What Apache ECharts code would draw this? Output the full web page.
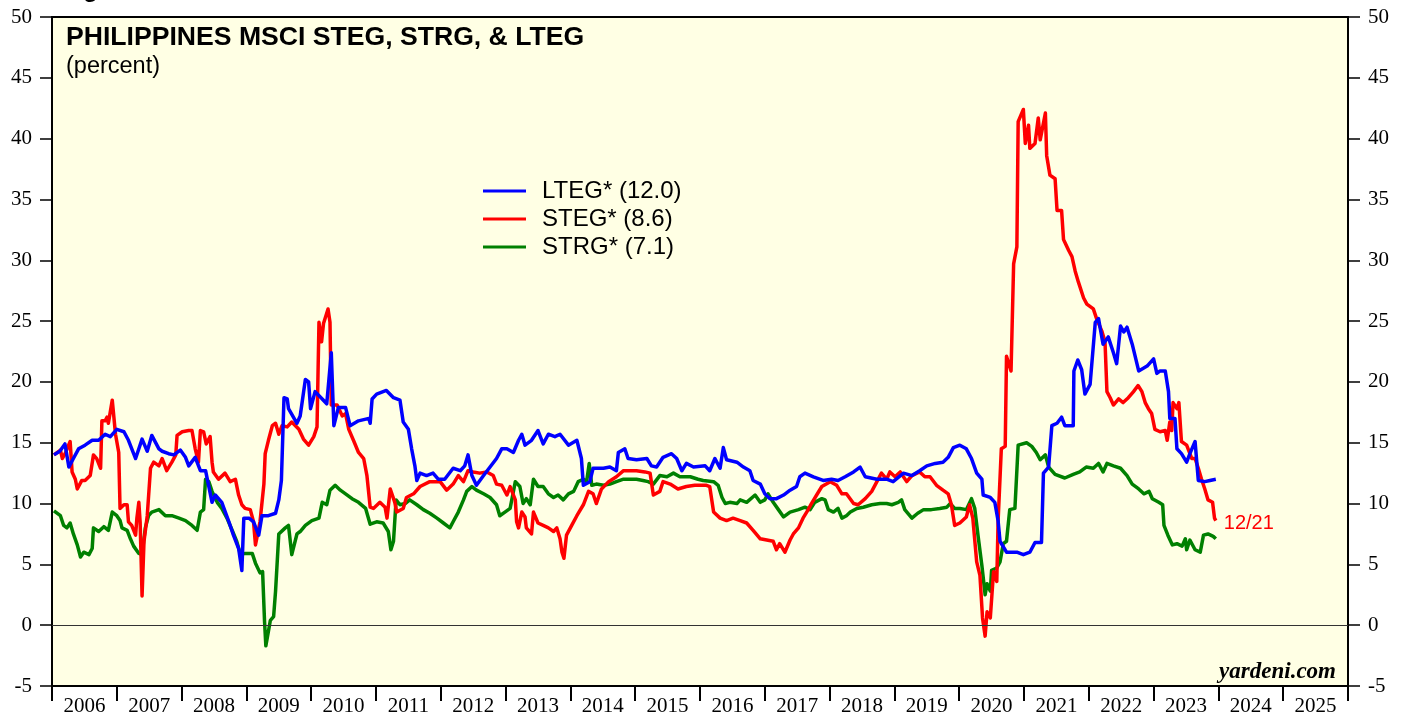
<!DOCTYPE html>
<html>
<head>
<meta charset="utf-8">
<title>Philippines MSCI STEG, STRG, & LTEG</title>
<script src="https://cdn.jsdelivr.net/npm/echarts@6/dist/echarts.min.js"></script>
<style>
  html, body { margin: 0; padding: 0; background: #fff; }
  #chart { width: 1407px; height: 717px; }
</style>
</head>
<body>
<div id="chart"></div>
<script>
// Year labels shown under the time axis (one per calendar year)
const years = ['2006','2007','2008','2009','2010','2011','2012','2013','2014','2015',
               '2016','2017','2018','2019','2020','2021','2022','2023','2024','2025'];

// Y-axis range shared by both vertical axes (percent)
const yMin = -5, yMax = 50, yStep = 5;

// Legend names with the latest reading of each series
const names = { lteg: 'LTEG* (12.0)', steg: 'STEG* (8.6)', strg: 'STRG* (7.1)' };

// Long-term expected earnings growth, [decimal year, percent]
const lteg = [
  [2006.03,14.0],[2006.05,14.1],[2006.12,14.3],[2006.20,14.9],[2006.26,13.0],[2006.33,13.7],[2006.41,14.5],[2006.51,14.8],
  [2006.62,15.2],[2006.72,15.2],[2006.82,15.7],[2006.90,15.5],[2007.00,16.1],[2007.11,15.9],[2007.18,15.2],[2007.29,13.7],
  [2007.39,15.3],[2007.47,14.3],[2007.54,15.6],[2007.65,14.5],[2007.70,14.3],[2007.80,14.1],[2007.88,14.0],[2007.98,14.4],
  [2008.06,13.8],[2008.11,13.1],[2008.21,13.8],[2008.29,12.7],[2008.37,12.7],[2008.47,10.1],[2008.52,10.7],[2008.62,10.1],
  [2008.73,8.5],[2008.80,7.4],[2008.88,6.3],[2008.93,4.5],[2008.96,8.8],[2009.04,8.8],[2009.11,8.5],[2009.19,7.4],
  [2009.24,9.0],[2009.34,9.0],[2009.45,9.2],[2009.50,10.3],[2009.54,11.9],[2009.58,18.7],[2009.63,18.6],[2009.65,17.8],
  [2009.78,16.6],[2009.83,17.2],[2009.91,20.2],[2009.96,20.0],[2009.99,17.8],[2010.06,19.2],[2010.17,18.6],[2010.24,18.2],
  [2010.31,22.4],[2010.35,16.4],[2010.42,17.9],[2010.53,17.9],[2010.60,16.4],[2010.73,16.8],[2010.89,17.0],[2010.91,16.6],
  [2010.94,18.6],[2011.01,19.0],[2011.16,19.3],[2011.27,18.7],[2011.37,18.5],[2011.42,16.7],[2011.50,16.1],[2011.55,14.5],
  [2011.60,13.1],[2011.63,11.9],[2011.68,12.5],[2011.78,12.3],[2011.88,12.5],[2011.96,12.0],[2012.06,12.0],[2012.19,12.9],
  [2012.30,12.7],[2012.37,13.1],[2012.42,14.0],[2012.48,12.3],[2012.55,11.5],[2012.66,12.3],[2012.76,13.0],[2012.86,13.7],
  [2012.94,14.5],[2013.02,14.5],[2013.12,14.2],[2013.20,15.2],[2013.25,15.7],[2013.30,14.8],[2013.40,15.2],[2013.50,16.0],
  [2013.58,14.9],[2013.66,15.7],[2013.76,15.5],[2013.84,15.7],[2013.97,14.8],[2014.10,15.2],[2014.17,13.7],[2014.20,11.5],
  [2014.30,11.8],[2014.35,12.9],[2014.51,12.9],[2014.61,13.0],[2014.71,12.7],[2014.74,14.2],[2014.84,14.5],[2014.89,13.7],
  [2015.02,13.6],[2015.18,13.7],[2015.25,13.1],[2015.33,13.0],[2015.43,13.8],[2015.56,14.1],[2015.64,13.7],[2015.72,12.7],
  [2015.79,13.3],[2015.90,13.0],[2016.08,13.1],[2016.15,12.7],[2016.23,13.7],[2016.31,12.9],[2016.36,14.6],[2016.41,13.6],
  [2016.57,13.4],[2016.67,13.0],[2016.77,12.7],[2016.82,11.9],[2016.93,11.6],[2017.00,10.8],[2017.08,10.4],[2017.18,10.4],
  [2017.29,10.7],[2017.39,11.1],[2017.49,11.4],[2017.54,12.2],[2017.62,12.5],[2017.75,12.2],[2017.90,11.9],[2018.03,12.0],
  [2018.13,11.9],[2018.24,12.2],[2018.37,12.6],[2018.47,13.0],[2018.55,12.2],[2018.73,12.0],[2018.88,12.0],[2018.98,11.8],
  [2019.14,12.5],[2019.27,12.3],[2019.39,12.7],[2019.50,13.1],[2019.63,13.3],[2019.75,13.4],[2019.83,13.8],[2019.91,14.6],
  [2020.01,14.8],[2020.11,14.5],[2020.19,13.7],[2020.27,12.5],[2020.35,12.0],[2020.37,10.7],[2020.48,10.5],[2020.55,10.1],
  [2020.60,8.6],[2020.63,6.9],[2020.73,6.0],[2020.89,6.0],[2020.99,5.8],[2021.09,6.0],[2021.17,6.8],[2021.27,6.8],
  [2021.30,12.5],[2021.38,13.0],[2021.43,16.4],[2021.51,16.6],[2021.58,17.1],[2021.63,16.4],[2021.76,16.4],[2021.77,20.9],
  [2021.83,21.8],[2021.89,21.0],[2021.94,19.0],[2022.02,19.8],[2022.10,24.9],[2022.15,25.2],[2022.22,23.1],[2022.30,23.7],
  [2022.38,22.4],[2022.43,21.5],[2022.49,24.6],[2022.54,24.1],[2022.59,24.5],[2022.67,23.1],[2022.77,20.9],[2022.90,21.3],
  [2023.00,21.9],[2023.05,20.7],[2023.10,20.9],[2023.18,20.9],[2023.23,19.2],[2023.25,17.0],[2023.33,17.0],[2023.36,14.5],
  [2023.43,14.1],[2023.51,13.4],[2023.56,14.1],[2023.64,15.1],[2023.69,11.9],[2023.79,11.8],[2023.87,11.9],[2023.96,12.0]
];

// Short-term expected earnings growth, [decimal year, percent]
const steg = [
  [2006.03,14.0],[2006.05,14.1],[2006.13,14.4],[2006.16,13.7],[2006.21,14.2],[2006.28,15.1],[2006.31,12.6],[2006.36,12.0],
  [2006.39,11.2],[2006.46,11.9],[2006.51,11.9],[2006.59,12.3],[2006.64,14.0],[2006.69,13.7],[2006.75,12.9],[2006.77,16.8],
  [2006.82,16.8],[2006.85,17.1],[2006.87,16.6],[2006.93,18.5],[2006.98,15.7],[2007.03,14.2],[2007.05,9.6],[2007.11,9.9],
  [2007.16,9.9],[2007.18,8.5],[2007.23,8.2],[2007.29,7.4],[2007.31,8.8],[2007.34,10.1],[2007.36,8.5],[2007.39,2.4],
  [2007.42,6.9],[2007.47,9.0],[2007.52,12.9],[2007.57,13.4],[2007.65,13.1],[2007.70,13.7],[2007.77,12.7],[2007.85,13.4],
  [2007.91,14.0],[2007.93,15.6],[2008.01,15.9],[2008.11,16.0],[2008.16,16.0],[2008.21,14.5],[2008.26,13.4],[2008.29,16.0],
  [2008.34,15.9],[2008.38,14.9],[2008.44,15.5],[2008.47,13.4],[2008.49,12.6],[2008.57,12.0],[2008.67,12.5],[2008.75,11.8],
  [2008.83,12.0],[2008.88,10.7],[2008.93,9.9],[2008.98,9.6],[2009.06,9.5],[2009.11,8.5],[2009.14,6.6],[2009.21,8.5],
  [2009.27,11.6],[2009.29,14.1],[2009.34,15.2],[2009.40,16.4],[2009.45,16.6],[2009.50,15.7],[2009.55,16.4],[2009.63,16.3],
  [2009.70,16.7],[2009.81,16.1],[2009.88,15.3],[2009.96,14.8],[2010.04,15.5],[2010.09,16.3],[2010.12,24.9],[2010.16,23.3],
  [2010.19,24.8],[2010.26,26.0],[2010.29,24.9],[2010.31,18.1],[2010.40,18.1],[2010.48,17.2],[2010.53,17.4],[2010.58,16.1],
  [2010.66,15.1],[2010.73,14.2],[2010.81,13.7],[2010.86,12.3],[2010.91,9.7],[2010.96,9.6],[2011.06,10.1],[2011.14,9.7],
  [2011.17,8.8],[2011.22,11.2],[2011.29,10.1],[2011.32,9.3],[2011.42,9.6],[2011.47,10.5],[2011.58,10.8],[2011.68,11.4],
  [2011.83,11.8],[2011.99,11.8],[2012.09,11.1],[2012.19,11.6],[2012.27,12.3],[2012.35,11.8],[2012.42,12.7],[2012.50,12.6],
  [2012.60,12.5],[2012.71,12.6],[2012.81,12.3],[2012.86,11.6],[2012.94,11.5],[2013.02,10.7],[2013.07,11.4],[2013.15,10.3],
  [2013.17,8.5],[2013.20,8.0],[2013.25,9.3],[2013.30,8.9],[2013.32,8.0],[2013.40,7.5],[2013.43,9.3],[2013.50,8.4],
  [2013.58,8.2],[2013.66,8.0],[2013.74,7.7],[2013.79,8.0],[2013.84,7.1],[2013.87,6.0],[2013.90,5.5],[2013.94,7.4],
  [2014.02,8.2],[2014.10,9.0],[2014.20,9.9],[2014.28,11.0],[2014.35,10.8],[2014.40,10.0],[2014.48,11.2],[2014.59,11.8],
  [2014.71,12.2],[2014.82,12.7],[2014.92,12.7],[2015.02,12.7],[2015.15,12.6],[2015.23,12.5],[2015.28,10.7],[2015.38,11.0],
  [2015.43,11.8],[2015.54,11.6],[2015.66,11.2],[2015.79,11.4],[2015.92,11.5],[2016.10,11.5],[2016.15,11.4],[2016.21,9.3],
  [2016.31,8.8],[2016.41,8.6],[2016.51,8.8],[2016.62,8.6],[2016.72,8.4],[2016.82,7.8],[2016.93,7.1],[2017.03,7.0],
  [2017.13,6.9],[2017.18,6.2],[2017.23,6.7],[2017.31,6.0],[2017.39,7.0],[2017.44,7.5],[2017.52,8.0],[2017.59,8.8],
  [2017.67,9.5],[2017.72,10.0],[2017.80,10.7],[2017.88,11.4],[2018.01,11.8],[2018.11,11.5],[2018.19,10.8],[2018.26,10.8],
  [2018.37,10.0],[2018.44,9.9],[2018.55,10.4],[2018.65,11.0],[2018.73,11.8],[2018.80,12.5],[2018.88,12.0],[2018.93,12.6],
  [2019.01,12.2],[2019.09,12.6],[2019.19,11.8],[2019.27,12.3],[2019.39,12.6],[2019.47,12.2],[2019.55,12.2],[2019.65,11.5],
  [2019.75,11.1],[2019.83,10.8],[2019.88,9.9],[2019.93,8.2],[2020.01,8.4],[2020.11,8.9],[2020.16,9.9],[2020.21,8.8],
  [2020.27,5.2],[2020.32,4.1],[2020.36,0.6],[2020.40,-0.9],[2020.43,1.1],[2020.48,0.6],[2020.53,4.4],[2020.58,3.6],
  [2020.60,8.5],[2020.65,14.5],[2020.71,14.7],[2020.73,22.1],[2020.80,20.9],[2020.84,29.7],[2020.89,31.1],[2020.91,41.4],
  [2020.99,42.4],[2021.02,39.6],[2021.07,41.1],[2021.09,39.2],[2021.17,39.6],[2021.22,41.7],[2021.25,39.9],[2021.33,42.1],
  [2021.35,38.6],[2021.40,37.0],[2021.48,36.7],[2021.51,34.1],[2021.58,34.1],[2021.61,31.7],[2021.69,30.8],[2021.74,30.3],
  [2021.79,29.1],[2021.84,28.2],[2021.92,26.9],[2021.97,26.4],[2022.07,26.0],[2022.12,25.2],[2022.20,24.2],[2022.25,23.3],
  [2022.28,19.2],[2022.33,18.7],[2022.38,18.1],[2022.46,18.6],[2022.53,18.3],[2022.61,18.7],[2022.69,19.2],[2022.76,19.7],
  [2022.82,19.2],[2022.87,18.3],[2022.92,17.8],[2022.97,17.4],[2023.02,16.1],[2023.10,15.9],[2023.18,16.0],[2023.21,15.2],
  [2023.25,16.7],[2023.28,16.0],[2023.30,18.3],[2023.36,17.8],[2023.39,18.3],[2023.43,15.1],[2023.51,14.8],[2023.59,13.7],
  [2023.64,13.7],[2023.69,12.9],[2023.74,12.0],[2023.79,11.2],[2023.84,10.3],[2023.91,10.1],[2023.94,8.8],[2023.96,8.6]
];

// Short-term expected revenue growth, [decimal year, percent]
const strg = [
  [2006.03,9.4],[2006.05,9.3],[2006.13,9.0],[2006.18,8.2],[2006.23,8.0],[2006.28,8.4],[2006.33,7.5],[2006.39,6.6],
  [2006.44,5.6],[2006.49,6.0],[2006.57,5.8],[2006.62,6.3],[2006.64,8.0],[2006.72,7.7],[2006.80,8.1],[2006.87,7.8],
  [2006.93,9.3],[2007.00,9.0],[2007.05,8.6],[2007.08,8.0],[2007.16,7.8],[2007.21,7.1],[2007.26,6.5],[2007.34,5.9],
  [2007.39,5.8],[2007.44,8.0],[2007.49,9.0],[2007.54,9.3],[2007.65,9.5],[2007.75,9.0],[2007.85,9.0],[2007.96,8.8],
  [2008.06,8.6],[2008.16,8.2],[2008.24,7.8],[2008.29,9.3],[2008.34,9.5],[2008.37,12.0],[2008.42,11.8],[2008.47,11.0],
  [2008.55,10.1],[2008.62,9.6],[2008.70,8.8],[2008.78,7.8],[2008.85,6.9],[2008.91,5.8],[2008.98,5.9],[2009.09,5.9],
  [2009.14,5.1],[2009.21,4.3],[2009.25,4.4],[2009.28,0.3],[2009.30,-1.7],[2009.37,0.4],[2009.42,0.7],[2009.45,2.8],
  [2009.50,7.5],[2009.60,8.0],[2009.65,8.2],[2009.70,5.8],[2009.78,7.5],[2009.83,7.7],[2009.91,8.2],[2010.01,8.6],
  [2010.12,8.8],[2010.17,10.1],[2010.24,9.9],[2010.29,11.1],[2010.37,11.5],[2010.45,11.1],[2010.53,10.8],[2010.63,10.4],
  [2010.73,10.1],[2010.84,9.6],[2010.91,8.3],[2011.01,8.5],[2011.11,8.4],[2011.19,7.7],[2011.23,6.2],[2011.27,6.9],
  [2011.31,10.3],[2011.37,9.9],[2011.45,10.0],[2011.52,10.3],[2011.63,9.9],[2011.73,9.5],[2011.83,9.2],[2011.94,8.8],
  [2012.04,8.4],[2012.14,8.0],[2012.19,8.5],[2012.27,9.3],[2012.35,10.3],[2012.40,11.0],[2012.48,11.4],[2012.55,11.1],
  [2012.66,10.8],[2012.76,10.5],[2012.86,9.9],[2012.91,9.0],[2012.99,9.3],[2013.07,9.6],[2013.15,11.8],[2013.22,11.4],
  [2013.27,10.0],[2013.32,10.4],[2013.38,9.9],[2013.43,12.0],[2013.50,11.4],[2013.58,11.4],[2013.66,10.8],[2013.74,10.5],
  [2013.81,10.7],[2013.89,10.3],[2013.97,10.8],[2014.05,11.0],[2014.12,11.8],[2014.20,12.0],[2014.25,11.8],[2014.29,13.3],
  [2014.33,11.5],[2014.40,11.6],[2014.51,11.5],[2014.61,11.6],[2014.71,11.8],[2014.82,12.0],[2014.92,12.0],[2015.02,12.0],
  [2015.12,11.9],[2015.20,11.8],[2015.28,11.6],[2015.38,12.3],[2015.49,12.2],[2015.59,12.5],[2015.69,12.2],[2015.85,12.2],
  [2015.97,12.0],[2016.05,11.9],[2016.21,11.8],[2016.28,11.5],[2016.34,10.5],[2016.39,10.0],[2016.46,10.1],[2016.57,10.0],
  [2016.62,10.3],[2016.72,10.1],[2016.85,10.7],[2016.93,10.1],[2017.00,10.3],[2017.05,10.8],[2017.13,10.1],[2017.21,9.5],
  [2017.29,8.9],[2017.39,9.3],[2017.52,9.5],[2017.62,9.7],[2017.70,9.5],[2017.77,10.1],[2017.88,10.4],[2017.93,10.3],
  [2017.98,9.5],[2018.06,9.3],[2018.13,9.6],[2018.19,8.8],[2018.26,9.0],[2018.32,9.3],[2018.42,9.6],[2018.52,9.7],
  [2018.65,9.9],[2018.78,10.0],[2018.88,10.0],[2018.96,9.9],[2019.06,10.1],[2019.11,10.3],[2019.16,9.5],[2019.27,8.8],
  [2019.36,9.2],[2019.45,9.5],[2019.57,9.5],[2019.70,9.6],[2019.81,9.7],[2019.86,10.0],[2019.93,9.6],[2020.01,9.6],
  [2020.11,9.5],[2020.19,10.4],[2020.24,9.6],[2020.29,7.4],[2020.35,4.9],[2020.40,2.5],[2020.43,3.4],[2020.48,2.8],
  [2020.50,4.5],[2020.58,4.7],[2020.63,5.2],[2020.68,6.7],[2020.73,6.9],[2020.78,9.5],[2020.86,9.6],[2020.91,14.8],
  [2021.04,15.0],[2021.12,14.7],[2021.19,14.2],[2021.25,13.6],[2021.33,14.0],[2021.38,13.0],[2021.48,12.4],[2021.63,12.1],
  [2021.76,12.4],[2021.86,12.6],[2021.96,13.0],[2022.07,12.9],[2022.15,13.3],[2022.22,12.6],[2022.28,13.3],[2022.38,13.1],
  [2022.49,12.9],[2022.59,12.3],[2022.67,11.6],[2022.77,11.2],[2022.85,10.8],[2022.93,11.0],[2022.98,10.4],[2023.08,10.1],
  [2023.14,9.9],[2023.16,8.2],[2023.22,7.4],[2023.29,6.6],[2023.36,6.7],[2023.44,6.5],[2023.49,7.1],[2023.51,6.2],
  [2023.56,7.0],[2023.64,6.2],[2023.72,6.0],[2023.77,7.4],[2023.84,7.5],[2023.92,7.3],[2023.96,7.1]
];

const SANS = '"Liberation Sans", Arial, sans-serif';
const SERIF = '"Liberation Serif", "Times New Roman", serif';

const chart = echarts.init(document.getElementById('chart'), null, { renderer: 'canvas' });

const yAxisCommon = {
  type: 'value', min: yMin, max: yMax, interval: yStep,
  axisLine: { show: false },
  axisTick: { show: true, inside: false, length: 12, lineStyle: { color: '#000', width: 1.5 } },
  axisLabel: { color: '#000', fontFamily: SERIF, fontSize: 21, margin: 20 },
  splitLine: { show: false }
};

function lineSeries(name, data, color, extra) {
  return Object.assign({
    name: name, type: 'line', data: data,
    xAxisIndex: 0, yAxisIndex: 0,
    showSymbol: false, symbol: 'none',
    lineStyle: { color: color, width: 3.5, join: 'round' },
    itemStyle: { color: color },
    emphasis: { disabled: true },
    animation: false
  }, extra || {});
}

chart.setOption({
  animation: false,
  backgroundColor: '#ffffff',
  grid: {
    left: 52, right: 59, top: 17, bottom: 29,
    show: true, backgroundColor: '#FFFFE4', borderColor: '#000', borderWidth: 2
  },
  xAxis: [
    {
      // continuous time scale carrying the data and the year boundary ticks
      type: 'value', min: 2006, max: 2026, interval: 1,
      axisLine: { show: false, onZero: false },
      axisTick: { show: true, inside: false, length: 15, lineStyle: { color: '#000', width: 2 } },
      axisLabel: { show: false },
      splitLine: { show: false }
    },
    {
      // year names centred between the boundary ticks
      type: 'category', data: years, position: 'bottom', boundaryGap: true,
      axisLine: { show: false, onZero: false }, axisTick: { show: false },
      axisLabel: { color: '#000', fontFamily: SERIF, fontSize: 21, margin: 10, interval: 0 },
      splitLine: { show: false }
    }
  ],
  yAxis: [
    Object.assign({ position: 'left' }, yAxisCommon),
    Object.assign({ position: 'right' }, yAxisCommon)
  ],
  legend: {
    orient: 'vertical', left: 478, top: 174,
    icon: 'rect', itemWidth: 43, itemHeight: 3, itemGap: 4,
    data: [names.lteg, names.steg, names.strg],
    textStyle: { color: '#000', fontFamily: SANS, fontSize: 24, padding: [0, 0, 0, 11] },
    selectedMode: false
  },
  graphic: [
    { type: 'text', left: 62, top: -22, silent: true,
      style: { text: 'Figure', font: 'bold 24px ' + SANS, fill: '#000' } },
    { type: 'text', left: 66, top: 24, silent: true,
      style: { text: 'PHILIPPINES MSCI STEG, STRG, & LTEG', font: 'bold 26.6px ' + SANS, fill: '#000' } },
    { type: 'text', left: 66, top: 55, silent: true,
      style: { text: '(percent)', font: '23.5px ' + SANS, fill: '#000' } },
    { type: 'text', right: 71, top: 661, silent: true,
      style: { text: 'yardeni.com', font: 'italic bold 23px ' + SERIF, fill: '#000' } }
  ],
  series: [
    lineSeries(names.strg, strg, '#008000', {
      z: 2,
      markLine: {
        silent: true, symbol: ['none', 'none'], animation: false,
        label: { show: false },
        lineStyle: { color: '#333', width: 1, type: 'solid' },
        data: [{ yAxis: 0 }]
      }
    }),
    lineSeries(names.steg, steg, '#FF0000', {
      z: 3,
      endLabel: { show: true, formatter: '12/21', color: '#FF0000', fontFamily: SANS, fontSize: 20, distance: 8, offset: [0, 3] }
    }),
    lineSeries(names.lteg, lteg, '#0000FF', { z: 4 })
  ]
});
</script>
</body>
</html>
